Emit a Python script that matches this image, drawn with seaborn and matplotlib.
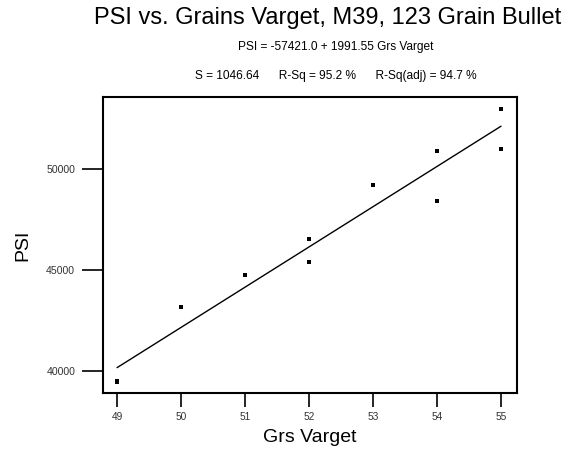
import numpy as np
import pandas as pd
import matplotlib
matplotlib.use("Agg")
import matplotlib.pyplot as plt
import seaborn as sns

# data
grains = [49, 49, 50, 51, 52, 52, 53, 54, 54, 55, 55]
psi = [39430, 39480, 43180, 44750, 46530, 45380, 49210, 50890, 48420, 52970, 50980]

# fit as printed on the chart
intercept = -57421.0
slope = 1991.55

x_ticks = [49, 50, 51, 52, 53, 54, 55]
y_ticks = [40000, 45000, 50000]

sns.set_style("white")
plt.rcParams["font.family"] = ["Liberation Sans", "DejaVu Sans"]
plt.rcParams["text.color"] = "black"
plt.rcParams["axes.labelcolor"] = "black"

W, H = 570, 449
fig = plt.figure(figsize=(W / 100, H / 100), dpi=100)
# axes box in pixels: left 103, right 517, top 97, bottom 393
ax = fig.add_axes([103 / W, 1 - 393 / H, (517 - 103) / W, (393 - 97) / H])

df = pd.DataFrame({"Grs Varget": grains, "PSI": psi})
fit = pd.DataFrame({"Grs Varget": [min(grains), max(grains)]})
fit["PSI"] = intercept + slope * fit["Grs Varget"]

sns.lineplot(data=fit, x="Grs Varget", y="PSI", color="black", linewidth=1.0, ax=ax)
sns.scatterplot(data=df, x="Grs Varget", y="PSI", marker="s", s=5, color="black",
                linewidth=0, ax=ax)

ax.set_xlim(48.78, 55.25)
ax.set_ylim(38910, 53560)
ax.set_xticks(x_ticks)
ax.set_yticks(y_ticks)
ax.tick_params(axis="x", length=10, width=1.2, labelsize=7.3, pad=4, direction="out",
               bottom=True, colors="black", labelcolor="#333333")
ax.tick_params(axis="y", length=15, width=1.2, labelsize=7.6, pad=5, direction="out",
               left=True, colors="black", labelcolor="#333333")
for sp in ax.spines.values():
    sp.set_linewidth(1.5)
    sp.set_color("black")

ax.set_xlabel("Grs Varget", fontsize=14, labelpad=5)
ax.set_ylabel("PSI", fontsize=14, labelpad=11)

fig.text(328 / W, 1 - 18 / H, "PSI vs. Grains Varget, M39, 123 Grain Bullet",
         ha="center", va="center", fontsize=17)
fig.text(336 / W, 1 - 47 / H, "PSI = -57421.0 + 1991.55 Grs Varget",
         ha="center", va="center", fontsize=8.6)
fig.text(336 / W, 1 - 75.5 / H, "S = 1046.64      R-Sq = 95.2 %      R-Sq(adj) = 94.7 %",
         ha="center", va="center", fontsize=8.6)

fig.savefig("out.png", dpi=100, facecolor="white")
